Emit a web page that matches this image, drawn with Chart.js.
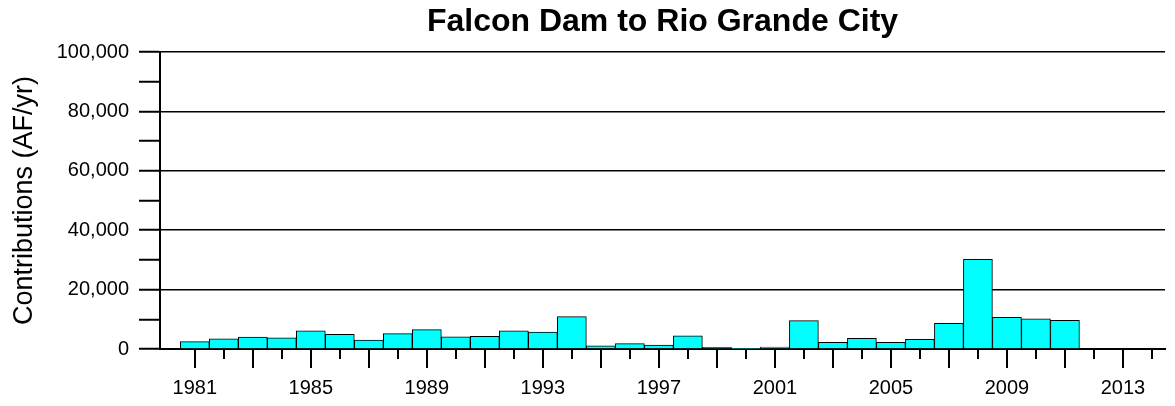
<!DOCTYPE html>
<html>
<head>
<meta charset="utf-8">
<style>
  html, body { margin: 0; padding: 0; background: #fff; }
  #wrap { width: 1175px; height: 406px; position: relative; }
</style>
<script src="https://cdn.jsdelivr.net/npm/chart.js@4.4.1/dist/chart.umd.min.js"></script>
</head>
<body>
<div id="wrap"><canvas id="chart"></canvas></div>
<script>
// Falcon Dam to Rio Grande City - annual contributions (bar)

var years = [1981, 1982, 1983, 1984, 1985, 1986, 1987, 1988, 1989, 1990,
  1991, 1992, 1993, 1994, 1995, 1996, 1997, 1998, 1999, 2000,
  2001, 2002, 2003, 2004, 2005, 2006, 2007, 2008, 2009, 2010, 2011];
var contributions = [2500, 3400, 4000, 3800, 6100, 4900, 3000, 5200, 6500, 4100,
  4300, 6100, 5700, 10900, 1100, 1800, 1350, 4400, 560, 200,
  670, 9550, 2250, 3600, 2250, 3250, 8650, 30200, 10700, 10200, 9650];
var tickYears = [1981, 1982, 1983, 1984, 1985, 1986, 1987, 1988, 1989, 1990,
  1991, 1992, 1993, 1994, 1995, 1996, 1997, 1998, 1999, 2000,
  2001, 2002, 2003, 2004, 2005, 2006, 2007, 2008, 2009, 2010,
  2011, 2012, 2013, 2014];
var labelYears = [1981, 1985, 1989, 1993, 1997, 2001, 2005, 2009, 2013];
var yLabelValues = [0, 20000, 40000, 60000, 80000, 100000];

var FONT = '"Liberation Sans", Arial, sans-serif';

// year ticks below the axis: long on odd years, short on even years
var yearTickPlugin = {
  id: 'yearTicks',
  afterDraw: function (chart) {
    var ctx = chart.ctx;
    var xs = chart.scales.x;
    var bottom = chart.chartArea.bottom;
    ctx.save();
    ctx.strokeStyle = '#000';
    ctx.lineWidth = 2;
    tickYears.forEach(function (yr) {
      var px = Math.round(xs.getPixelForValue(yr));
      var len = (yr % 2 === 1) ? 19 : 10;
      ctx.beginPath();
      ctx.moveTo(px, bottom);
      ctx.lineTo(px, bottom + len);
      ctx.stroke();
    });
    ctx.restore();
  }
};

new Chart(document.getElementById('chart').getContext('2d'), {
  type: 'bar',
  data: {
    datasets: [{
      data: years.map(function (y, i) { return { x: y, y: contributions[i] }; }),
      backgroundColor: '#00FFFF',
      borderColor: '#000',
      borderWidth: 1,
      barPercentage: 1,
      categoryPercentage: 1
    }]
  },
  options: {
    responsive: true,
    maintainAspectRatio: false,
    animation: false,
    layout: { padding: { right: 10 } },
    plugins: {
      legend: { display: false },
      tooltip: { enabled: false },
      title: {
        display: true,
        text: 'Falcon Dam to Rio Grande City',
        color: '#000',
        fullSize: false,
        font: { family: FONT, size: 32, weight: 'bold' },
        padding: { top: 3, bottom: 10.6 }
      }
    },
    scales: {
      x: {
        type: 'linear',
        offset: false,
        min: 1979.8,
        max: 2014.45,
        afterBuildTicks: function (scale) {
          scale.ticks = tickYears.map(function (v) { return { value: v }; });
        },
        afterFit: function (scale) { scale.height = 57; },
        border: { display: true, color: '#000', width: 2 },
        grid: { drawOnChartArea: false, drawTicks: true, tickLength: 19, tickColor: 'rgba(0,0,0,0)' },
        ticks: {
          autoSkip: false,
          maxRotation: 0,
          padding: 8,
          color: '#000',
          font: { family: FONT, size: 20 },
          callback: function (v) { return labelYears.indexOf(v) >= 0 ? String(v) : ''; }
        }
      },
      y: {
        min: 0,
        max: 100000,
        afterFit: function (scale) { scale.width = 160; },
        border: { display: true, color: '#000', width: 2 },
        grid: {
          lineWidth: 1.5,
          tickLength: 21,
          tickWidth: 2,
          tickColor: '#000',
          color: function (c) {
            var v = c.tick && c.tick.value;
            return (v > 0 && yLabelValues.indexOf(v) >= 0) ? '#000' : 'rgba(0,0,0,0)';
          }
        },
        ticks: {
          stepSize: 10000,
          padding: 10,
          color: '#000',
          font: { family: FONT, size: 20 },
          callback: function (v) {
            return yLabelValues.indexOf(v) >= 0 ? v.toLocaleString('en-US') : '';
          }
        },
        title: {
          display: true,
          text: 'Contributions (AF/yr)',
          color: '#000',
          font: { family: FONT, size: 27 },
          padding: { top: 8, bottom: 0 }
        }
      }
    }
  },
  plugins: [yearTickPlugin]
});
</script>
</body>
</html>
